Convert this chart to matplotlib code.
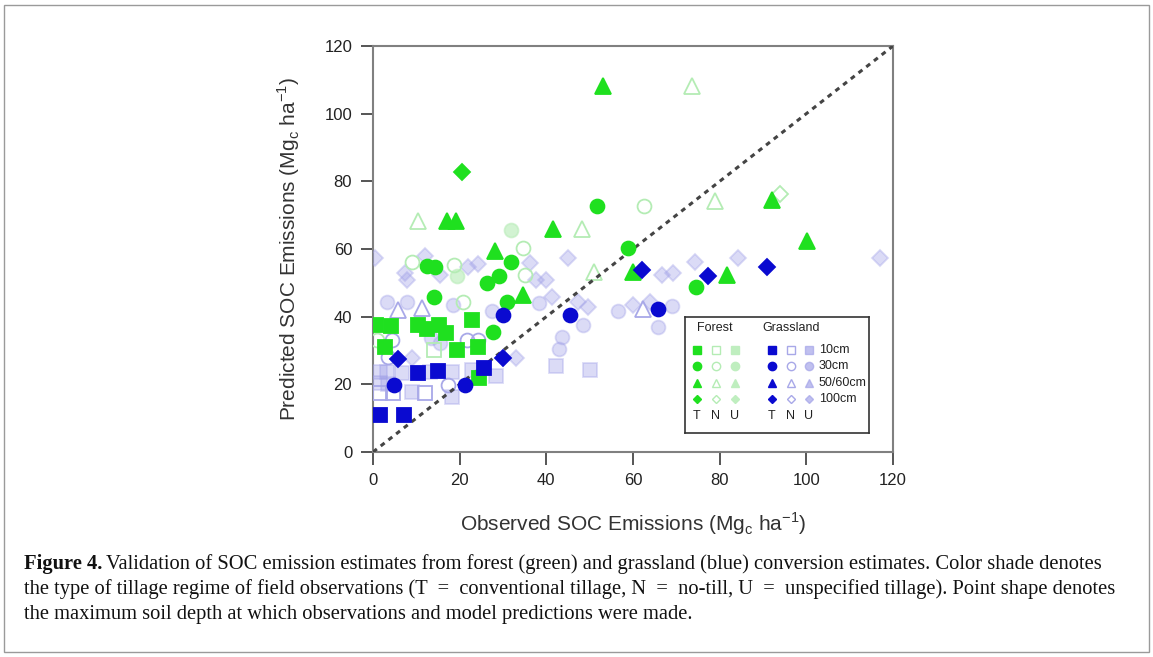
import matplotlib
matplotlib.use("Agg")
import matplotlib.pyplot as plt
from matplotlib.patches import Rectangle

# observed (x) vs predicted (y), grouped by land use / tillage / depth
forest_T_10 = [(0.7, 37.5), (4.2, 37.2), (10.3, 37.5), (12.4, 36.3), (15.3, 37.5), (16.8, 35.1),
               (22.8, 39.0), (2.8, 31.1), (19.3, 30.2), (24.3, 31.1), (24.5, 21.8)]
forest_T_30 = [(12.4, 55.0), (14.3, 54.6), (31.8, 56.3), (29.1, 52.1), (26.3, 49.9), (30.9, 44.2),
               (27.8, 35.4), (14.1, 45.7), (51.8, 72.8), (58.8, 60.2), (74.5, 48.9)]
forest_T_50 = [(53.1, 108.2), (17.1, 68.3), (19.2, 68.3), (41.5, 65.8), (28.2, 59.5), (34.5, 46.4),
               (92.0, 74.5), (100.2, 62.4), (81.7, 52.3), (60.0, 53.3)]
forest_T_100 = [(20.6, 82.9)]

forest_N_10 = [(14.1, 30.2)]
forest_N_30 = [(62.5, 72.8), (34.7, 60.2), (9.1, 56.3), (18.8, 55.3), (35.1, 52.3), (20.8, 44.4), (1.0, 33.1)]
forest_N_50 = [(73.5, 108.2), (10.5, 68.4), (48.2, 65.8), (78.9, 74.3), (50.9, 53.3)]
forest_N_100 = [(93.9, 76.4)]

forest_U_30 = [(31.8, 65.6), (19.3, 52.0)]

grass_T_10 = [(1.6, 10.9), (7.2, 10.9), (10.3, 23.3), (14.9, 24.0), (25.7, 24.7)]
grass_T_30 = [(4.9, 19.8), (21.2, 19.8), (29.9, 40.5), (45.5, 40.5), (65.8, 42.2)]
grass_T_100 = [(5.8, 27.4), (30.1, 27.7), (62.0, 53.8), (77.2, 52.1), (91.0, 54.6)]

grass_N_10 = [(1.6, 17.3), (4.7, 17.3), (12.0, 17.3)]
grass_N_30 = [(4.3, 33.1), (21.6, 33.1), (24.3, 33.1), (17.4, 19.8), (3.5, 28.2)]
grass_N_50 = [(62.4, 42.2), (5.8, 42.0), (11.2, 42.5)]

grass_U_10 = [(42.3, 25.4), (50.0, 24.2), (28.5, 22.5), (1.6, 23.7), (3.2, 23.7), (6.6, 23.3),
              (18.2, 16.3), (13.2, 23.7), (18.2, 23.7), (22.8, 24.2), (8.9, 17.8), (1.6, 20.5), (3.5, 20.0)]
grass_U_30 = [(56.6, 41.8), (68.9, 43.2), (65.8, 37.0), (27.4, 41.8), (38.2, 44.0), (43.5, 34.1),
              (42.9, 30.4), (48.5, 37.5), (3.2, 44.4), (7.8, 44.4), (18.5, 43.4), (13.5, 33.6), (15.5, 32.2)]
grass_U_100 = [(0.5, 57.3), (12.0, 57.9), (7.4, 52.8), (7.8, 50.8), (15.5, 52.3), (22.0, 54.8),
               (24.3, 55.6), (36.2, 55.8), (37.7, 50.8), (40.0, 50.8), (41.3, 45.9), (45.1, 57.3),
               (47.4, 44.4), (49.7, 43.0), (33.1, 27.7), (8.9, 27.7), (74.3, 56.3), (84.3, 57.3),
               (117.0, 57.3), (66.6, 52.3), (69.2, 52.8), (63.9, 44.4), (60.0, 43.4)]

depth_labels = ["10cm", "30cm", "50/60cm", "100cm"]
tillage_labels = ["T", "N", "U"]
ticks = [0, 20, 40, 60, 80, 100, 120]

GREEN = "#1fe01f"
BLUE = "#0a0ad0"
styles = {
    ("F", "T"): dict(mfc=GREEN, mec=GREEN, alpha=1.0),
    ("F", "N"): dict(mfc="none", mec="#b4ecb4", alpha=1.0),
    ("F", "U"): dict(mfc="#bfeebf", mec="#bfeebf", alpha=0.7),
    ("G", "T"): dict(mfc=BLUE, mec=BLUE, alpha=1.0),
    ("G", "N"): dict(mfc="none", mec="#a8a8e8", alpha=1.0),
    ("G", "U"): dict(mfc="#a2a2e8", mec="#a2a2e8", alpha=0.38),
}
shapes = {"10": "s", "30": "o", "50": "^", "100": "D"}
msize = {"10": 10, "30": 10, "50": 11, "100": 8}

groups = [
    ("G", "U", "10", grass_U_10), ("G", "U", "30", grass_U_30), ("G", "U", "100", grass_U_100),
    ("F", "U", "30", forest_U_30),
    ("G", "N", "10", grass_N_10), ("G", "N", "30", grass_N_30), ("G", "N", "50", grass_N_50),
    ("F", "N", "10", forest_N_10), ("F", "N", "30", forest_N_30), ("F", "N", "50", forest_N_50),
    ("F", "N", "100", forest_N_100),
    ("F", "T", "10", forest_T_10), ("F", "T", "30", forest_T_30), ("F", "T", "50", forest_T_50),
    ("F", "T", "100", forest_T_100),
    ("G", "T", "10", grass_T_10), ("G", "T", "30", grass_T_30), ("G", "T", "100", grass_T_100),
]

W, H = 1153, 657
fig = plt.figure(figsize=(W / 100, H / 100), dpi=100)
fig.patches.append(Rectangle((4 / W, 5 / H), 1145 / W, 647 / H, transform=fig.transFigure,
                             fill=False, edgecolor="#9a9a9a", lw=1.0))

ax = fig.add_axes([373 / W, (H - 452) / H, 520 / W, 406 / H])
ax.plot([0, 120], [0, 120], color="#444444", lw=2.2, linestyle=(0, (1.6, 1.6)), zorder=5)

for land, till, depth, pts in groups:
    xs = [p[0] for p in pts]
    ys = [p[1] for p in pts]
    st = styles[(land, till)]
    ax.plot(xs, ys, linestyle="none", marker=shapes[depth], ms=msize[depth],
            mfc=st["mfc"], mec=st["mec"], alpha=st["alpha"], mew=1.3,
            zorder=6 if till == "T" else 3)

ax.set_xlim(0, 120)
ax.set_ylim(0, 120)
ax.set_xticks(ticks)
ax.set_yticks(ticks)
tick_font = ["Liberation Sans Narrow", "Liberation Sans"]
ax.set_xticklabels([str(t) for t in ticks], family=tick_font, fontsize=12, color="#222222")
ax.set_yticklabels([str(t) for t in ticks], family=tick_font, fontsize=12, color="#222222")
ax.tick_params(direction="out", length=9, width=1.4, color="#555555", pad=6)
for sp in ax.spines.values():
    sp.set_color("#808080")
    sp.set_linewidth(1.5)
ax.set_xlabel(r"Observed SOC Emissions (Mg$_\mathregular{c}$ ha$^\mathregular{-1}$)",
              family=tick_font, fontsize=15, color="#333333", labelpad=16)
ax.set_ylabel(r"Predicted SOC Emissions (Mg$_\mathregular{c}$ ha$^\mathregular{-1}$)",
              family=tick_font, fontsize=15, color="#333333", labelpad=16)

# legend drawn in pixel coordinates of its own box
x0, x1, y0, y1 = 685, 869, 317, 433
lax = fig.add_axes([x0 / W, (H - y1) / H, (x1 - x0) / W, (y1 - y0) / H])
lax.set_xlim(x0, x1)
lax.set_ylim(y1, y0)
lax.set_xticks([])
lax.set_yticks([])
for sp in lax.spines.values():
    sp.set_color("#333333")
    sp.set_linewidth(1.2)
lfont = dict(family=tick_font, fontsize=9, color="#222222", va="center")
lax.text(715, 328, "Forest", ha="center", **lfont)
lax.text(791, 328, "Grassland", ha="center", **lfont)
col_x = {"F": [697, 716, 735], "G": [772, 791, 809]}
row_y = [350, 366, 383, 399]
for land in ["F", "G"]:
    for j, till in enumerate(tillage_labels):
        st = styles[(land, till)]
        for i, depth in enumerate(["10", "30", "50", "100"]):
            lax.plot(col_x[land][j], row_y[i], marker=shapes[depth], linestyle="none",
                     ms=6 if depth != "100" else 4.5, mfc=st["mfc"], mec=st["mec"],
                     alpha=min(1.0, st["alpha"] + 0.3), mew=1.0)
        lax.text(col_x[land][j], 416, till, ha="center", **lfont)
for i, lab in enumerate(depth_labels):
    lax.text(819, row_y[i], lab, ha="left", **lfont)

# caption
cap_font = "Liberation Serif"
cap_size = 14.8
renderer = fig.canvas.get_renderer()
bold = fig.text(24 / W, 1 - 564 / H, "Figure 4.", family=cap_font, fontsize=cap_size,
                weight="bold", va="center", color="#111111")
bw = bold.get_window_extent(renderer).width
fig.text((24 + bw + 4) / W, 1 - 564 / H,
         "Validation of SOC emission estimates from forest (green) and grassland (blue) "
         "conversion estimates. Color shade denotes",
         family=cap_font, fontsize=cap_size, va="center", color="#111111")
fig.text(24 / W, 1 - 589 / H,
         "the type of tillage regime of field observations (T  =  conventional tillage, N  =  no-till, "
         "U  =  unspecified tillage). Point shape denotes",
         family=cap_font, fontsize=cap_size, va="center", color="#111111")
fig.text(24 / W, 1 - 614 / H,
         "the maximum soil depth at which observations and model predictions were made.",
         family=cap_font, fontsize=cap_size, va="center", color="#111111")

fig.savefig("out.png", dpi=100)
